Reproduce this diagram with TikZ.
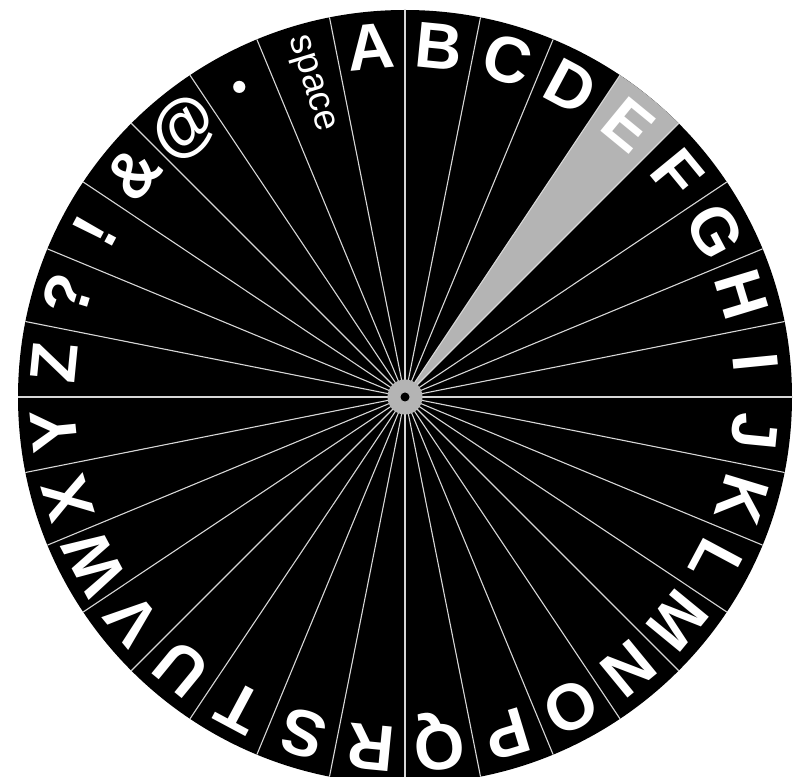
\documentclass[tikz,border=0pt]{standalone}
\usepackage{fontspec}
\newfontfamily\arialfont{Liberation Sans}
\definecolor{hl}{RGB}{180,180,180}
\definecolor{spokegray}{RGB}{215,215,215}
\begin{document}
\begin{tikzpicture}[x=1pt,y=1pt,
  spoke/.style={draw=spokegray, line width=1.1pt},
  letter/.style={text=white, font=\arialfont\bfseries\fontsize{65}{65}\selectfont,
    inner sep=0pt, text height=46.5pt, text depth=0pt},
  smalltext/.style={text=white, font=\arialfont\fontsize{37}{37}\selectfont, inner sep=0pt},
  dottext/.style={text=white, font=\normalfont\bfseries\fontsize{85}{85}\selectfont, inner sep=0pt}
]
\useasboundingbox (0,0) rectangle (796,777);
\coordinate (c) at (405,380);
\fill[black] (c) circle (387);
\fill[hl] (c) -- ([shift={(c)}]45:387) arc (45:56.25:387) -- cycle;
\foreach \k in {0,...,31}
  \draw[spoke] (c) -- ([shift={(c)}]\k*11.25:387);
\foreach \t [count=\i from 0, evaluate=\i as \a using 95.625-11.25*\i] in
  {A,B,C,D,E,F,G,H,I,J,K,L,M,N,O,P,Q,R,S,T,U,V,W,X,Y,Z,?,!,\&,@}
  \node[letter, rotate=\a-90] (L\i) at ([shift={(c)}]\a:353) {\t};
\node[dottext] (dot) at ([shift={(c)}]118.125:351) {.};
\node[smalltext, rotate=106.875-180] (space) at ([shift={(c)}]106.875:327) {space};
\fill[hl] (c) circle (17.5);
\fill[black] (c) circle (4.5);
\end{tikzpicture}
\end{document}
